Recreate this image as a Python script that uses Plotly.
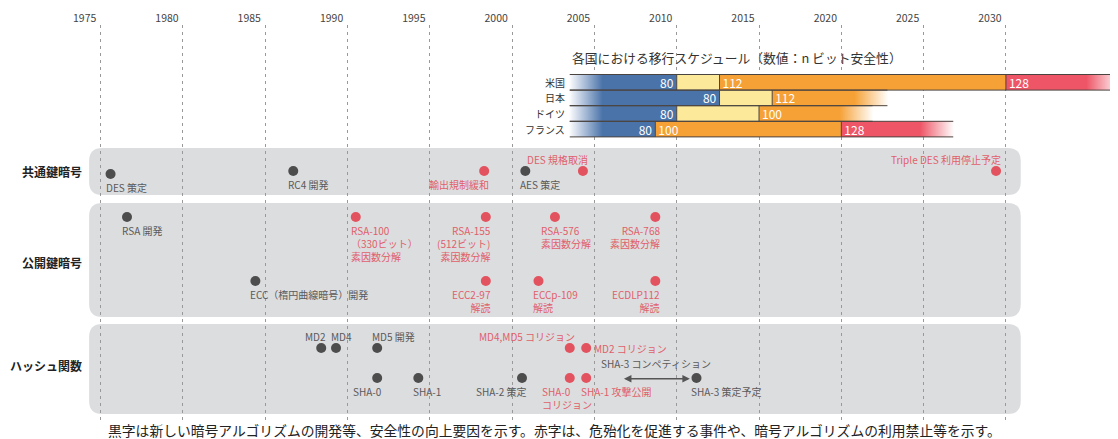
import plotly.graph_objects as go

# ---- data ----
tick_years = list(range(1975, 2031, 5))

countries = ["米国", "日本", "ドイツ", "フランス"]
bar_start = 2004.5
us_bits = [80, None, 112, 128]
us_ends = [2011.0, 2013.6, 2031.0, 2037.9]
jp_bits = [80, None, 112]
jp_ends = [2013.6, 2016.8, 2023.8]
de_bits = [80, None, 100]
de_ends = [2011.0, 2016.0, 2022.9]
fr_bits = [80, 100, 128]
fr_ends = [2009.7, 2021.0, 2027.8]

# 共通鍵暗号
sym_labels = ["DES 策定", "RC4 開発", "輸出規制緩和", "AES 策定", "DES 規格取消", "Triple DES 利用停止予定"]
sym_years = [1976.6, 1987.7, 1999.3, 2001.8, 2005.3, 2030.4]
sym_lane = [1, 0, 0, 0, 0, 0]
sym_red = [0, 0, 1, 0, 1, 1]

# 公開鍵暗号
pk_labels = ["RSA 開発", "RSA-100<br>（330ビット）<br>素因数分解", "RSA-155<br>(512ビット)<br>素因数分解",
             "RSA-576<br>素因数分解", "RSA-768<br>素因数分解", "ECC（楕円曲線暗号）開発",
             "ECC2-97<br>解読", "ECCp-109<br>解読", "ECDLP112<br>解読"]
pk_years = [1977.6, 1991.5, 1999.4, 2003.6, 2009.7, 1985.4, 1999.4, 2002.6, 2009.7]
pk_lane = [0, 0, 0, 0, 0, 1, 1, 1, 1]
pk_red = [0, 1, 1, 1, 1, 0, 1, 1, 1]

# ハッシュ関数
hash_labels = ["MD2", "MD4", "MD5 開発", "SHA-0", "SHA-1", "SHA-2 策定", "MD4,MD5 コリジョン",
               "MD2 コリジョン", "SHA-0<br>コリジョン", "SHA-1 攻撃公開", "SHA-3 策定予定"]
hash_years = [1989.4, 1990.3, 1992.8, 1992.8, 1995.3, 2001.6, 2004.5, 2005.5, 2004.5, 2005.5, 2012.2]
hash_lane = [0, 0, 0, 1, 1, 1, 0, 0, 1, 1, 1]
hash_red = [0, 0, 0, 0, 0, 0, 1, 1, 1, 1, 0]
sha3_competition = [2007.7, 2011.8]

title_text = "各国における移行スケジュール（数値：n ビット安全性）"
caption = ("黒字は新しい暗号アルゴリズムの開発等、安全性の向上要因を示す。"
           "赤字は、危殆化を促進する事件や、暗号アルゴリズムの利用禁止等を示す。")

# ---- styles / layout ----
FONT = "Noto Sans CJK JP"
BLUE, YELLOW, ORANGE, RED = "#4a73a9", "#fde99a", "#f6a136", "#ee5667"
bit_color = {80: BLUE, None: YELLOW, 100: ORANGE, 112: ORANGE, 128: RED}
GRAY_DOT, RED_DOT = "#4d4d4d", "#e2535f"
GRAY_TXT, RED_TXT = "#5a5a5a", "#e0606b"
BAND = "#dcdddf"
ROW_TOP, ROW_H = 74.5, 15.6
FADE = 2.0
W, H = 1110, 431  # page body adds an 8px margin

# placement codes for labels: b/a/s = below/above/side, l/r = align
sym_place = ["bl", "bl", "br", "bl", "ar", "ar"]
pk_place = ["bl", "bl", "br", "bl", "br", "bl", "br", "bl", "br"]
hash_place = ["ar", "al", "al", "br", "bl", "br", "ar", "sr", "bl", "bl", "bl"]
extra_shift = {"RSA-576<br>素因数分解": -14, "SHA-0<br>コリジョン": -28}

bands = [
    ("共通鍵暗号", 148, 195, 171, [171, 174], sym_labels, sym_years, sym_lane, sym_red, sym_place),
    ("公開鍵暗号", 203, 317, 262, [217, 281], pk_labels, pk_years, pk_lane, pk_red, pk_place),
    ("ハッシュ関数", 324, 414, 365, [348, 378], hash_labels, hash_years, hash_lane, hash_red, hash_place),
]
band_x0, band_x1 = 1975.3, 2031.9

fig = go.Figure()


def rounded_path(x0, x1, y0, y1, rx=0.8, ry=13):
    return (f"M {x0+rx},{y0} L {x1-rx},{y0} Q {x1},{y0} {x1},{y0+ry} "
            f"L {x1},{y1-ry} Q {x1},{y1} {x1-rx},{y1} L {x0+rx},{y1} "
            f"Q {x0},{y1} {x0},{y1-ry} L {x0},{y0+ry} Q {x0},{y0} {x0+rx},{y0} Z")


annotations = []

# ---- schedule bars ----
all_bits = [us_bits, jp_bits, de_bits, fr_bits]
all_ends = [us_ends, jp_ends, de_ends, fr_ends]
seg = {"end": dict(x=[], base=[], y=[], c=[], t=[]), "start": dict(x=[], base=[], y=[], c=[], t=[])}
lx, ly = [], []
for i, (bits, ends) in enumerate(zip(all_bits, all_ends)):
    top = ROW_TOP + ROW_H * i
    yc = top + ROW_H / 2
    starts = [bar_start] + ends[:-1]
    for b, s, e in zip(bits, starts, ends):
        d = seg["end"] if b == 80 else seg["start"]
        d["x"].append(e - s); d["base"].append(s); d["y"].append(yc)
        d["c"].append(bit_color[b]); d["t"].append("" if b is None else str(b))
    # outlines
    lx += [bar_start, ends[-1], None, bar_start, ends[-1], None]
    ly += [top, top, None, top + ROW_H, top + ROW_H, None]
    for e in ends[:-1]:
        lx += [e, e, None]
        ly += [top, top + ROW_H, None]
    annotations.append(dict(x=bar_start, y=yc, xref="x", yref="y", text=countries[i], showarrow=False,
                            xanchor="right", xshift=-3, font=dict(size=10, color="#333", family=FONT)))

for anchor, d in seg.items():
    fig.add_trace(go.Bar(x=d["x"], base=d["base"], y=d["y"], orientation="h", width=ROW_H,
                         marker=dict(color=d["c"], line=dict(width=0)), text=d["t"],
                         textposition="inside", insidetextanchor=anchor, constraintext="none",
                         textangle=0, textfont=dict(color="white", size=12, family=FONT),
                         hoverinfo="skip"))

# fades at both ends of every row
for i, (bits, ends) in enumerate(zip(all_bits, all_ends)):
    top = ROW_TOP + ROW_H * i
    bot = top + ROW_H
    a0, a1 = bar_start - 0.05, bar_start + FADE
    fig.add_trace(go.Scatter(x=[a0, a1, a1, a0, a0], y=[top, top, bot, bot, top], mode="lines",
                             line=dict(width=0), fill="toself", hoverinfo="skip",
                             fillgradient=dict(type="horizontal",
                                               colorscale=[[0, "white"], [1, bit_color[bits[0]]]])))
    b0, b1 = ends[-1] - FADE, ends[-1] + 0.05
    fig.add_trace(go.Scatter(x=[b0, b1, b1, b0, b0], y=[top, top, bot, bot, top], mode="lines",
                             line=dict(width=0), fill="toself", hoverinfo="skip",
                             fillgradient=dict(type="horizontal",
                                               colorscale=[[0, bit_color[bits[-1]]], [1, "white"]])))

fig.add_trace(go.Scatter(x=lx, y=ly, mode="lines", line=dict(color="#4a4440", width=1), hoverinfo="skip"))

annotations.append(dict(x=bar_start, y=57, xref="x", yref="y", text=title_text, showarrow=False,
                        xanchor="left", font=dict(size=12.8, color="#333", family=FONT)))

# ---- bands and events ----
for name, y0, y1, label_y, lane_y, labels, yrs, lanes, red, place in bands:
    fig.add_shape(type="path", path=rounded_path(band_x0, band_x1, y0, y1), fillcolor=BAND,
                  line=dict(width=0), layer="below")
    annotations.append(dict(x=74 / W, y=label_y, xref="paper", yref="y", text=f"<b>{name}</b>",
                            showarrow=False, xanchor="right", borderpad=0, borderwidth=0,
                            font=dict(size=12, color="#222", family=FONT)))
    ys = [lane_y[l] for l in lanes]
    fig.add_trace(go.Scatter(x=yrs, y=ys, mode="markers", hoverinfo="skip",
                             marker=dict(size=10, color=[RED_DOT if r else GRAY_DOT for r in red])))
    for lab, x, y, r, p in zip(labels, yrs, ys, red, place):
        a = dict(x=x, y=y, xref="x", yref="y", text=lab, showarrow=False, borderpad=0, borderwidth=0,
                 font=dict(size=10, color=RED_TXT if r else GRAY_TXT, family=FONT))
        if p[0] == "b":
            a.update(yanchor="top", y=y + 5.5)
        elif p[0] == "a":
            a.update(yanchor="bottom", y=y - 4.5)
        else:
            a.update(yanchor="middle")
        if p == "sr":
            a.update(xanchor="left", xshift=8, align="left")
        elif p[1] == "l":
            a.update(xanchor="left", xshift=extra_shift.get(lab, -5), align="left")
        else:
            a.update(xanchor="right", xshift=5, align="right")
        annotations.append(a)

# SHA-3 competition arrow
annotations.append(dict(x=sha3_competition[1], y=378.7, ax=sha3_competition[0], ay=378.7,
                        xref="x", yref="y", axref="x", ayref="y", text="", showarrow=True,
                        arrowhead=2, arrowside="end+start", arrowsize=1, arrowwidth=1.5,
                        arrowcolor="#555", standoff=0, startstandoff=0))
annotations.append(dict(x=sum(sha3_competition) / 2, y=363, xref="x", yref="y",
                        text="SHA-3 コンペティション", showarrow=False,
                        font=dict(size=10, color=GRAY_TXT, family=FONT)))

annotations.append(dict(x=546 / W, y=-0.0235, xref="paper", yref="paper", text=caption,
                        showarrow=False, yanchor="middle", borderpad=0, borderwidth=0,
                        font=dict(size=13.8, color="#222", family=FONT)))

fig.update_layout(
    width=W, height=H, margin=dict(l=0, r=0, t=17, b=18),
    paper_bgcolor="white", plot_bgcolor="white", showlegend=False, barmode="overlay",
    annotations=annotations, font=dict(family=FONT),
    xaxis=dict(range=[1970.37, 2037.81], side="top", tickvals=[y + 1 for y in tick_years],
               ticktext=[str(y) for y in tick_years], ticklabelshift=-16, ticks="",
               showgrid=True, gridcolor="#999", griddash="3px,4px", gridwidth=1,
               zeroline=False, showline=False, tickfont=dict(size=10.5, color="#444", family=FONT)),
    yaxis=dict(range=[421, 25], visible=False, showgrid=False, zeroline=False),
)

fig.write_html("out.html")
